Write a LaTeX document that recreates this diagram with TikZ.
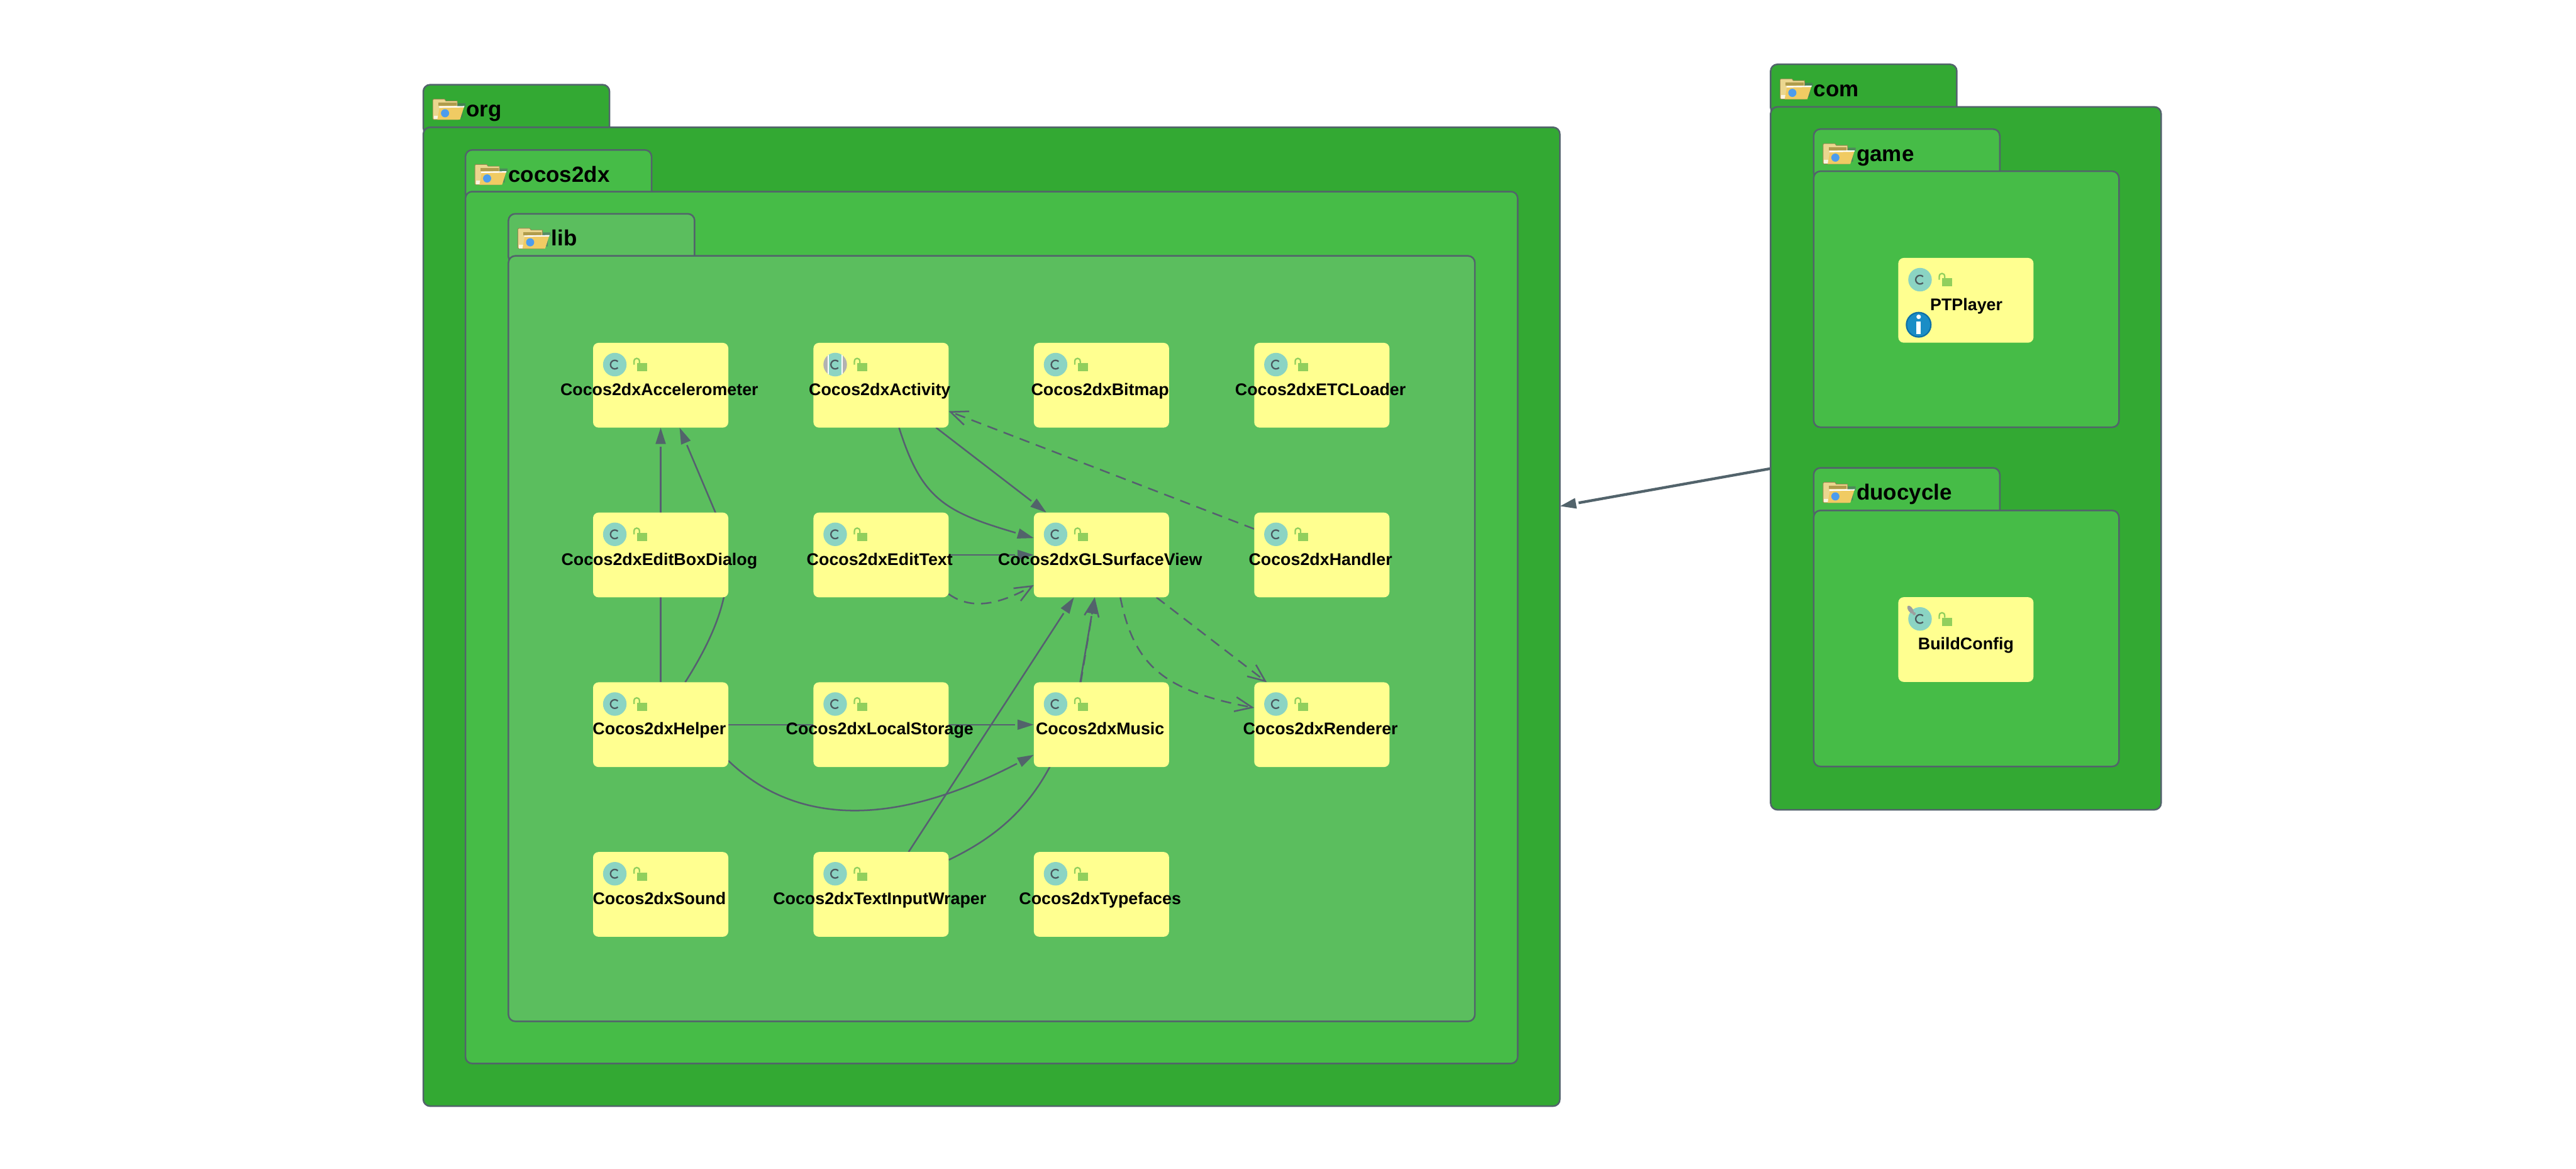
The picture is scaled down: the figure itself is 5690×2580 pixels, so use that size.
\documentclass[tikz,border=0pt]{standalone}
\usepackage{fontspec}
\setmainfont{Liberation Sans}
\usetikzlibrary{arrows.meta,positioning,shapes.geometric}
\definecolor{pkgline}{HTML}{52636B}
\definecolor{edgeline}{HTML}{565F70}
\definecolor{pkgouter}{HTML}{33A933}
\definecolor{pkgmiddle}{HTML}{46BC47}
\definecolor{pkginner}{HTML}{5BBE5E}
\definecolor{clsfill}{HTML}{FFFF90}
\definecolor{clsteal}{HTML}{8BD4C3}
\definecolor{clsmark}{HTML}{4C5A60}
\definecolor{lockgreen}{HTML}{91CF5D}
\definecolor{folderback}{HTML}{EBD68F}
\definecolor{folderedge}{HTML}{96874F}
\definecolor{folderstrip}{HTML}{B09C4C}
\definecolor{folderfront}{HTML}{F0CB63}
\definecolor{folderdot}{HTML}{4C9CEE}
\definecolor{infoblue}{HTML}{1A8DC6}
\definecolor{infoedge}{HTML}{0E6FA6}
\pgfdeclarelayer{pkglayer}
\pgfdeclarelayer{edgelayer}
\pgfsetlayers{pkglayer,edgelayer,main}

\begin{document}
\begin{tikzpicture}[x=.01cm,y=-.01cm,font=\bfseries,
 cls/.style={fill=clsfill,rounded corners=.12cm,minimum width=2.985cm,minimum height=1.87cm,inner sep=0,outer sep=0},
 clsname/.style={xshift=-.03cm,yshift=-.125cm,inner sep=0,text height=.28cm,text depth=.08cm,font=\bfseries\fontsize{10.6}{12}\selectfont},
 pkgbody/.style={draw=pkgline,line width=.035cm,rounded corners=.15cm,anchor=north west,inner sep=0,outer sep=0},
 pkgtab/.style={pkgbody,inner xsep=.95cm,inner ysep=0,text height=.71cm,text depth=.39cm,text width=2.21cm,font=\bfseries\fontsize{13.8}{15}\selectfont},
 flow/.style={line width=.035cm,edgeline,shorten >=.42cm,postaction={draw=pkgline,shorten >=0pt,dash pattern=on 0pt off 100cm,-{Triangle[length=.36cm,width=.22cm]}}},
 dep/.style={-{Straight Barb[length=.38cm,width=.32cm]},line width=.035cm,edgeline,dash pattern=on .23cm off .15cm},
 pkgflow/.style={line width=.06cm,pkgline,shorten >=.42cm,postaction={draw,shorten >=0pt,dash pattern=on 0pt off 100cm,-{Triangle[length=.36cm,width=.22cm]}}},
 folder/.pic={
  \fill[pkgline,opacity=.55] (52,9) rectangle (72,17) (58,17) rectangle (66,40);
  \filldraw[fill=folderback,draw=folderedge,line width=.012cm] (0,2) -- (2,0) -- (26,0) -- (29,4) -- (54,4) -- (54,40) -- (58,38) -- (56,45) -- (2,45) -- (0,43) -- cycle;
  \fill[folderstrip] (12,8) rectangle (52,15);
  \fill[white!75!folderback] (2,36) rectangle (16,44);
  \fill[folderfront] (15,18) -- (69,17) -- (60,45) -- (10,45) -- cycle;
  \fill[white] (14,16) -- (70,15) -- (69,18) -- (14,19) -- cycle;
  \fill[folderdot] (27,31) circle[radius=9];
 },
 lockmark/.pic={
  \fill[lockgreen] (97,45) rectangle (119,63);
  \draw[lockgreen,line width=.032cm] (90.5,48) -- (90.5,41) .. controls (90.5,32) and (102.5,32) .. (102.5,41) -- (102.5,45);
 },
 cmark/.pic={
  \draw[clsmark,line width=.032cm] (48,48) ++(45:9.5) arc[start angle=45,end angle=315,radius=9.5];
 },
 clsmarks/.pic={
  \fill[clsteal] (48,48) circle[radius=26];
  \pic {cmark};
  \pic {lockmark};
 },
 absmarks/.pic={
  \fill[black!30] (48,48) circle[radius=26];
  \begin{scope}
   \clip (48,48) circle[radius=26];
   \fill[white] (31,20) rectangle (65,76);
   \fill[clsteal] (34,20) rectangle (62,76);
  \end{scope}
  \pic {cmark};
  \pic {lockmark};
 },
 finalpin/.pic={
  \fill[black!38] (27,27.5) ellipse[x radius=5,y radius=10,rotate=35];
  \fill[black!38] (35,36.5) circle[radius=3.5];
 },
 infobadge/.pic={
  \filldraw[fill=infoblue,draw=infoedge,line width=.03cm] (45,147.5) circle[radius=27];
  \fill[white] (45,130) circle[radius=5];
  \fill[white] (40,140) rectangle (50,168);
 }]

\begin{pgfonlayer}{pkglayer}
\node[pkgtab,fill=pkgouter] (orgtab) at (935,187) {org};
\node[pkgbody,fill=pkgouter,minimum width=25.09cm,minimum height=21.6cm] (org) at (935,281) {};
\node[pkgtab,fill=pkgmiddle] (cocostab) at (1028,331) {cocos2dx};
\node[pkgbody,fill=pkgmiddle,minimum width=23.23cm,minimum height=19.24cm] (cocos) at (1028,423) {};
\node[pkgtab,fill=pkginner] (libtab) at (1123,472) {lib};
\node[pkgbody,fill=pkginner,minimum width=21.335cm,minimum height=16.89cm] (lib) at (1123,565) {};
\node[pkgtab,fill=pkgouter] (comtab) at (3911,142) {com};
\node[pkgbody,fill=pkgouter,minimum width=8.62cm,minimum height=15.51cm] (com) at (3911,236) {};
\node[pkgtab,fill=pkgmiddle] (gametab) at (4006,285) {game};
\node[pkgbody,fill=pkgmiddle,minimum width=6.74cm,minimum height=5.65cm] (game) at (4006,378) {};
\node[pkgtab,fill=pkgmiddle] (duocycletab) at (4006,1033) {duocycle};
\node[pkgbody,fill=pkgmiddle,minimum width=6.74cm,minimum height=5.65cm] (duocycle) at (4006,1127) {};
\foreach \t in {orgtab,cocostab,libtab,comtab,gametab,duocycletab}
 \pic[shift={(21,32)}] at (\t.north west) {folder};
\end{pgfonlayer}

\node[cls,anchor=north west,label={[clsname]center:Cocos2dxAccelerometer}] (accel) at (1310,757) {};
\node[cls,right=1.88cm of accel,label={[clsname]center:Cocos2dxActivity}] (activity) {};
\node[cls,right=1.88cm of activity,label={[clsname]center:Cocos2dxBitmap}] (bitmap) {};
\node[cls,right=1.88cm of bitmap,label={[clsname]center:Cocos2dxETCLoader}] (etcloader) {};
\node[cls,below=1.875cm of accel,label={[clsname]center:Cocos2dxEditBoxDialog}] (editbox) {};
\node[cls,right=1.88cm of editbox,label={[clsname]center:Cocos2dxEditText}] (edittext) {};
\node[cls,right=1.88cm of edittext,label={[clsname]center:Cocos2dxGLSurfaceView}] (glsurface) {};
\node[cls,right=1.88cm of glsurface,label={[clsname]center:Cocos2dxHandler}] (handler) {};
\node[cls,below=1.875cm of editbox,label={[clsname]center:Cocos2dxHelper}] (helper) {};
\node[cls,right=1.88cm of helper,label={[clsname]center:Cocos2dxLocalStorage}] (localstorage) {};
\node[cls,right=1.88cm of localstorage,label={[clsname]center:Cocos2dxMusic}] (music) {};
\node[cls,right=1.88cm of music,label={[clsname]center:Cocos2dxRenderer}] (renderer) {};
\node[cls,below=1.875cm of helper,label={[clsname]center:Cocos2dxSound}] (sound) {};
\node[cls,right=1.88cm of sound,label={[clsname]center:Cocos2dxTextInputWraper}] (wraper) {};
\node[cls,right=1.88cm of wraper,label={[clsname]center:Cocos2dxTypefaces}] (typefaces) {};
\node[cls,anchor=north west,label={[clsname,xshift=.04cm]center:PTPlayer}] (ptplayer) at (4193,569.5) {};
\node[cls,anchor=north west,label={[clsname,xshift=.03cm]center:BuildConfig}] (buildconfig) at (4193,1318.5) {};

\foreach \n in {accel,bitmap,etcloader,editbox,edittext,glsurface,handler,helper,localstorage,music,renderer,sound,wraper,typefaces,ptplayer,buildconfig}
 \pic at (\n.north west) {clsmarks};
\pic at (activity.north west) {absmarks};
\pic at (buildconfig.north west) {finalpin};
\pic at (ptplayer.north west) {infobadge};

\begin{pgfonlayer}{edgelayer}
\draw[flow] (helper) -- (accel);
\draw[flow] (helper.60) .. controls (1600,1370) and (1635,1255) .. (1580,1131) -- (accel.294);
\draw[flow] (activity) -- (glsurface);
\draw[flow] (activity.293) .. controls (2035,1100) and (2085,1130) .. (glsurface.166);
\draw[flow] (edittext) -- (glsurface);
\draw[dep] (edittext.330) .. controls (2135,1340) and (2190,1345) .. (glsurface.204);
\draw[dep] (handler) -- (activity);
\draw[dep] (glsurface) -- (renderer);
\draw[dep] (glsurface.294) .. controls (2505,1470) and (2570,1525) .. (renderer.166);
\draw[flow] (helper) -- (music);
\draw[flow] (helper.332) .. controls (1750,1815) and (1960,1835) .. (music.204);
\draw[flow] (wraper) -- (glsurface);
\draw[dep] (music.116) -- (glsurface.261);
\draw[flow] (wraper.27) .. controls (2250,1825) and (2335,1720) .. (2386,1506) -- (glsurface.261);
\end{pgfonlayer}
\draw[pkgflow] (com.183) -- (org.11);

\useasboundingbox (0,0) rectangle (5690,2580);
\end{tikzpicture}
\end{document}
